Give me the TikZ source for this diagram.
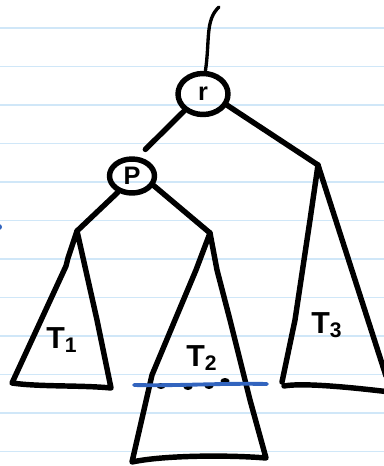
\documentclass[tikz,border=0pt]{standalone}
\usepackage{fontspec}
\setmainfont{Liberation Sans}
\usepackage{tikz}
\usetikzlibrary{shapes.geometric}
\definecolor{paperline}{RGB}{208,231,248}
\definecolor{cutblue}{RGB}{50,100,190}

\begin{document}
\begin{tikzpicture}[x=0.02cm,y=-0.02cm,
  pen/.style={line width=3.1pt,line cap=round,line join=round},
  rule/.style={draw=paperline,line width=0.8pt},
  vtx/.style={draw,pen,ellipse,inner sep=0pt,font=\bfseries\Large},
  lbl/.style={font=\bfseries\LARGE}]
  \useasboundingbox (0,0) rectangle (384,466);
  \clip (0,0) rectangle (384,466);
  % notebook paper
  \foreach \ry in {28,66.5,105,143.5,182,220.5,259,297.5,336,374.5,413,451.5}
    \draw[rule] (0,\ry) -- (384,\ry);
  \fill[cutblue] (-1,227) circle (3);
  % vertices
  \node[vtx,minimum width=1.0cm,minimum height=0.82cm] (r) at (203,94) {r};
  \node[vtx,minimum width=0.9cm,minimum height=0.68cm] (p) at (132,176) {P};
  % subtree tops
  \coordinate (t1) at (77,231);
  \coordinate (t2) at (210,233);
  \coordinate (t3) at (318,165);
  % edges
  \draw[line width=1.9pt,line cap=round] (r.84) .. controls (210,40) and (205,20) .. (219,7);
  \draw[pen,shorten >=6pt] (r.222) -- (p.73);
  \draw[pen] (r.-25) -- (t3);
  \draw[pen] (p.229) -- (t1);
  \draw[pen] (p.-24) -- (t2);
  % subtrees
  \draw[pen] (t1) -- (68,258) -- (66,266) -- (12,383) .. controls (40,387) and (80,385) .. (111,388) -- (97,320) -- (t1);
  \draw[pen] (t2) -- (196,270) -- (175,320) -- (152,375) -- (132,462)
    .. controls (165,455) and (230,455) .. (266,458) -- (250,400) -- (230,320) -- (217,270) -- (t2);
  \draw[pen] (t3) -- (310,220) -- (295,320) -- (282,382);
  \draw[pen] (t3) -- (386,376);
  \draw[pen] (284,386) .. controls (300,383) and (340,386) .. (390,392);
  % labels
  \node[lbl] (l1) at (62,340) {T$_{\mathbf 1}$};
  \node[lbl] (l2) at (202,358) {T$_{\mathbf 2}$};
  \node[lbl] (l3) at (327,325) {T$_{\mathbf 3}$};
  % cut
  \foreach \dx/\dy in {161/386,188/387,209/386,225/381}
    \fill (\dx,\dy) ellipse (4.5 and 3);
  \draw[cutblue,line width=2.2pt,line cap=round] (134,385) .. controls (180,386) and (220,383) .. (267,384);
\end{tikzpicture}
\end{document}
